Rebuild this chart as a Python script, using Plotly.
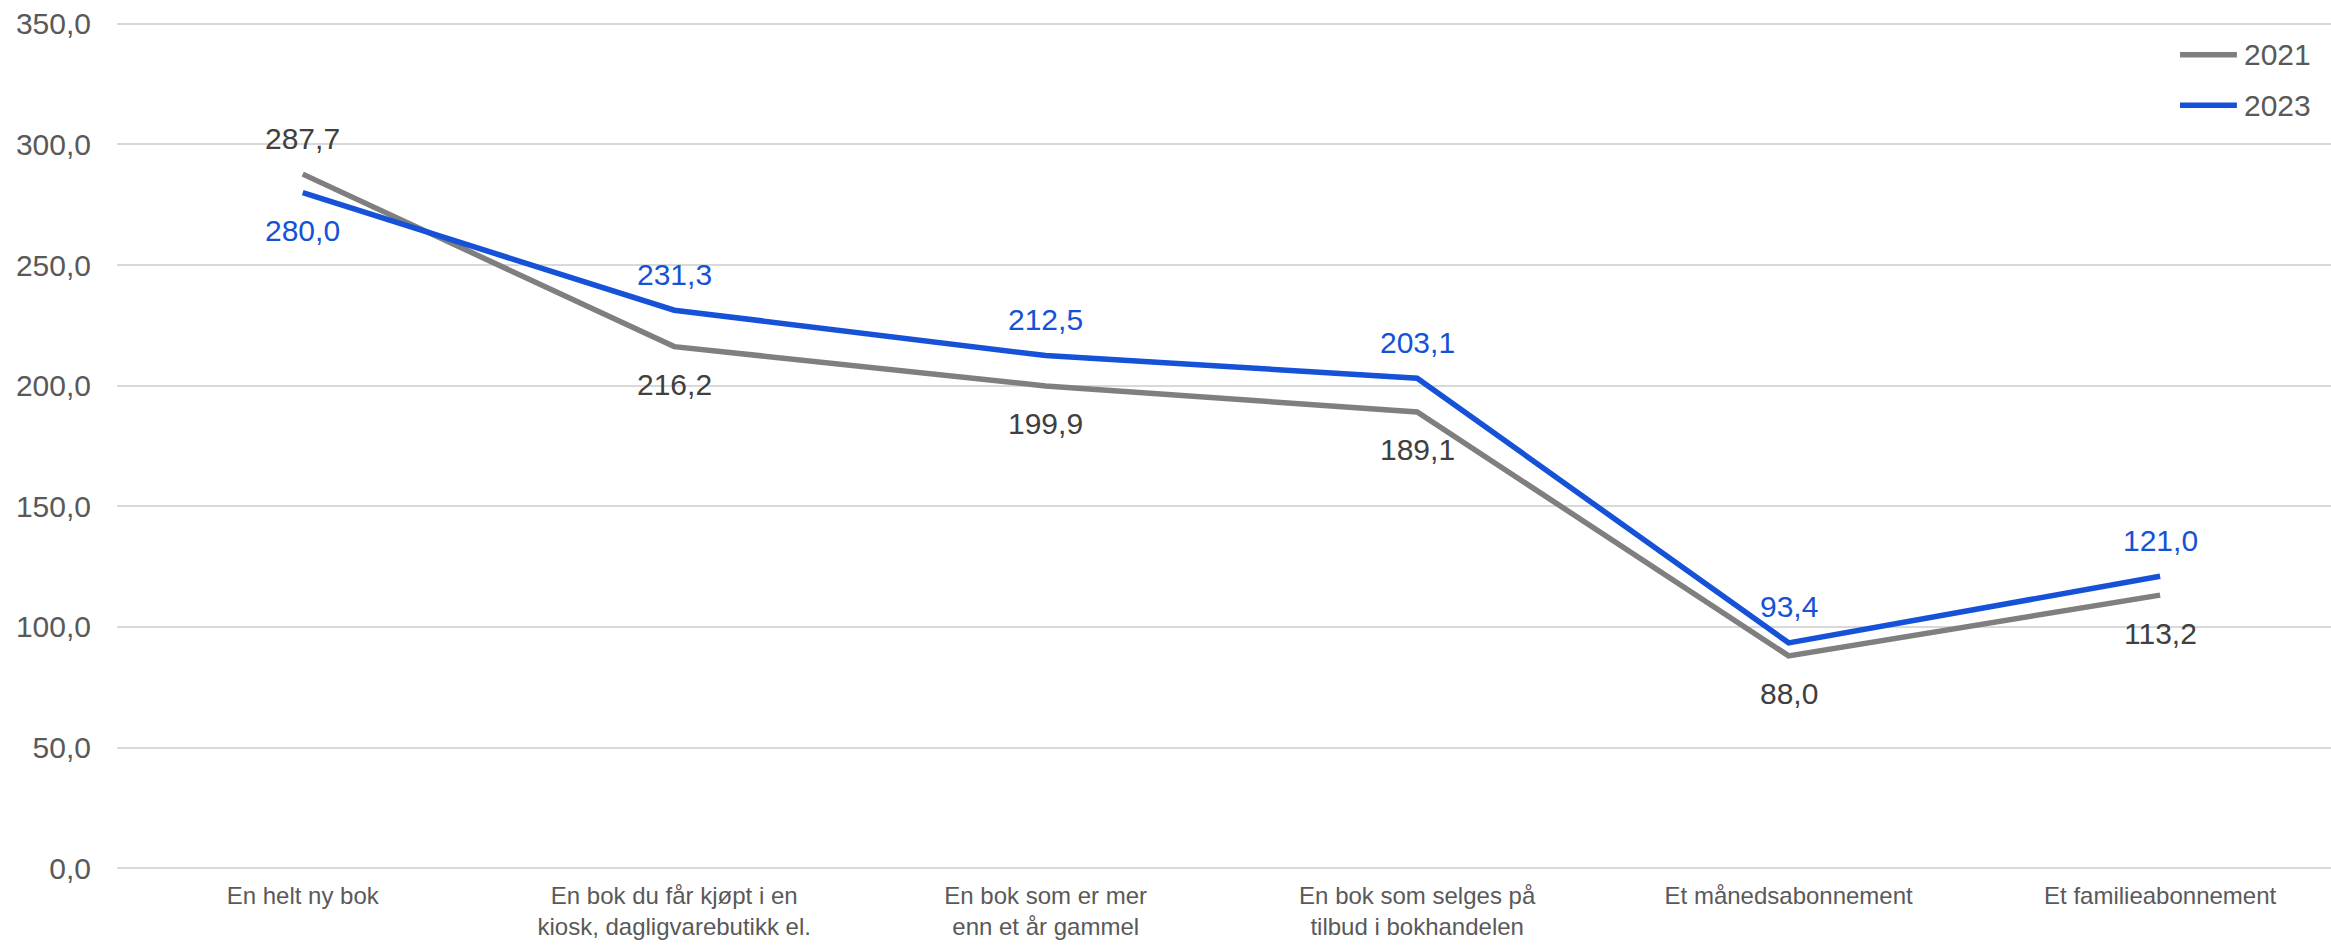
import plotly.graph_objects as go

categories = [
    "En helt ny bok",
    "En bok du får kjøpt i en<br>kiosk, dagligvarebutikk el.",
    "En bok som er mer<br>enn et år gammel",
    "En bok som selges på<br>tilbud i bokhandelen",
    "Et månedsabonnement",
    "Et familieabonnement",
]
series_names = ["2021", "2023"]
values_2021 = [287.7, 216.2, 199.9, 189.1, 88.0, 113.2]
values_2023 = [280.0, 231.3, 212.5, 203.1, 93.4, 121.0]
# label placement: True = above the point
above_2021 = [True, False, False, False, False, False]
above_2023 = [False, True, True, True, True, True]

GRAY = "#7F7F7F"
BLUE = "#1552D8"
GRAY_TXT = "#404040"
AXIS_TXT = "#595959"
FONT = "Liberation Sans, Arial, sans-serif"

fig = go.Figure()
fig.add_trace(go.Scatter(x=categories, y=values_2021, mode="lines", name=series_names[0],
                         line=dict(color=GRAY, width=5.5), showlegend=False))
fig.add_trace(go.Scatter(x=categories, y=values_2023, mode="lines", name=series_names[1],
                         line=dict(color=BLUE, width=5.5), showlegend=False))

def fmt(v):
    return f"{v:.1f}".replace(".", ",")

annotations = []
for vals, ups, col in [(values_2021, above_2021, GRAY_TXT), (values_2023, above_2023, BLUE)]:
    for c, v, up in zip(categories, vals, ups):
        annotations.append(dict(
            x=c, y=v, text=fmt(v), showarrow=False,
            xanchor="center", yanchor="middle",
            yshift=36 if up else -38,
            font=dict(family=FONT, size=30, color=col),
        ))

# legend drawn in the top-right corner
shapes = []
for name, col, ly in [(series_names[0], GRAY, 0.958), (series_names[1], BLUE, 0.899)]:
    shapes.append(dict(type="line", xref="paper", yref="paper",
                       x0=0.9318, x1=0.9575, y0=ly, y1=ly,
                       line=dict(color=col, width=5.5)))
    annotations.append(dict(xref="paper", yref="paper", x=0.9596, y=ly, text=name,
                            showarrow=False, xanchor="left", yanchor="middle",
                            font=dict(family=FONT, size=30, color=AXIS_TXT)))

fig.update_layout(
    width=2331, height=945,
    margin=dict(l=117, r=0, t=19, b=72),
    paper_bgcolor="white", plot_bgcolor="white",
    separators=", ",
    font=dict(family=FONT, size=30, color=AXIS_TXT),
    showlegend=False,
    annotations=annotations,
    shapes=shapes,
)
fig.update_xaxes(
    type="category", range=[-0.5, 5.46], automargin=False,
    showgrid=False, showline=False, zeroline=False, ticks="",
    tickfont=dict(family="Liberation Sans Narrow, Arial Narrow, sans-serif", size=24, color=AXIS_TXT),
    ticklabelstandoff=6,
)
fig.update_yaxes(
    range=[-2, 352], dtick=50, tick0=0, tickformat=".1f", automargin=False,
    showgrid=True, gridcolor="#D9D9D9", gridwidth=2,
    zeroline=True, zerolinecolor="#D9D9D9", zerolinewidth=2,
    showline=False, ticks="",
    tickfont=dict(size=30, color=AXIS_TXT),
    ticklabelstandoff=25,
)

fig.write_html("out.html")
